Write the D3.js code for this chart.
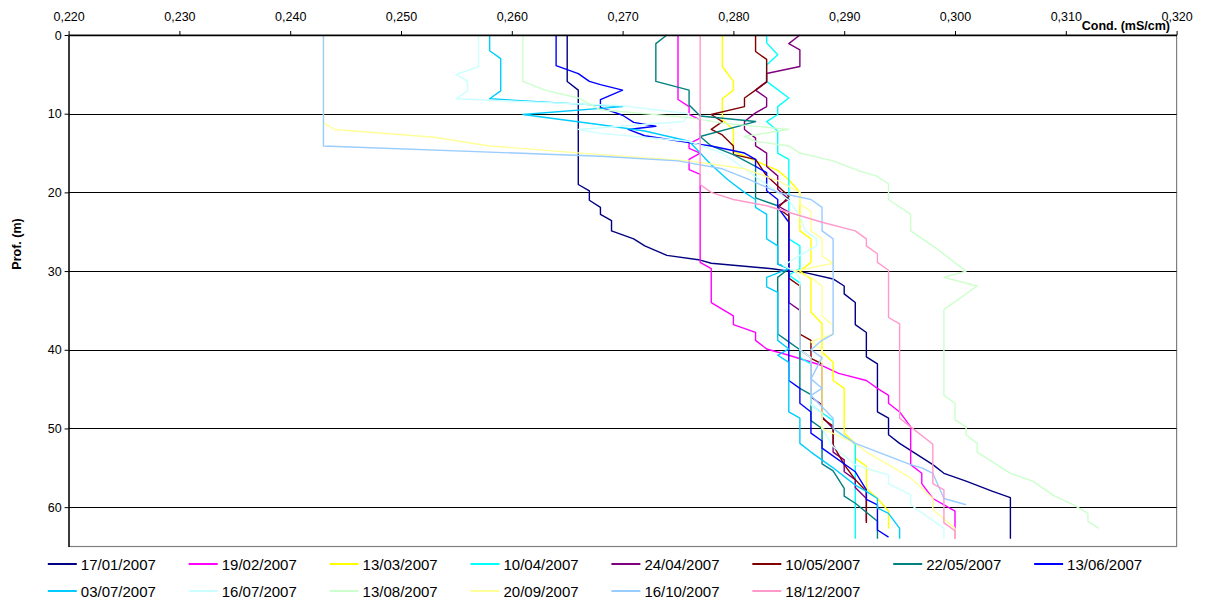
<!DOCTYPE html>
<html><head><meta charset="utf-8">
<script src="https://cdn.jsdelivr.net/npm/d3@7"></script>
<style>body{margin:0;background:#fff}svg{font-family:"Liberation Sans",Arial,sans-serif}</style>
</head><body>
<svg id="chart" width="1205" height="603"></svg>
<script>
const seriesNames = ["17/01/2007","19/02/2007","13/03/2007","10/04/2007","24/04/2007","10/05/2007","22/05/2007","13/06/2007","03/07/2007","16/07/2007","13/08/2007","20/09/2007","16/10/2007","18/12/2007"];
const seriesColors = ["#000080","#FF00FF","#FFFF00","#00FFFF","#800080","#800000","#008080","#0000FF","#00CCFF","#CCFFFF","#CCFFCC","#FFFF99","#99CCFF","#FF99CC"];
const xTicks = [0.22,0.23,0.24,0.25,0.26,0.27,0.28,0.29,0.30,0.31,0.32];
const yTicks = [0,10,20,30,40,50,60];

// each point: [depth (m), conductivity (mS/cm)]
const s17jan = [[0,.265],[5.9,.265],[7,.266],[19,.266],[19.8,.267],[21,.267],[21.9,.268],[22.8,.268],[23.6,.269],[24.9,.269],[25.9,.271],[26.8,.272],[28,.274],[28.6,.277],[29,.278],[29.7,.2835],[30,.285],[30.2,.2865],[31,.289],[31.9,.290],[32.9,.290],[34,.291],[36.8,.291],[37.8,.292],[40.9,.292],[41.8,.293],[47.9,.293],[48.7,.294],[50.8,.294],[51.9,.295],[54.6,.298],[55.7,.299],[56.7,.301],[58,.3034],[58.8,.305],[64,.305]];
const s19feb = [[0,.275],[8.2,.275],[9.1,.276],[10.1,.276],[10.8,.277],[13.1,.277],[13.8,.276],[14.4,.276],[15,.277],[15.8,.276],[17.1,.276],[17.7,.277],[28.9,.277],[29.7,.278],[34,.278],[35.7,.280],[36.8,.280],[37.8,.282],[38.8,.282],[39.9,.283],[40.7,.285],[42,.288],[43,.2895],[43.9,.292],[44.9,.293],[45.8,.294],[46.8,.294],[47.9,.295],[49.8,.296],[54.6,.296],[55.7,.297],[57,.297],[58.9,.298],[60.5,.300],[64,.300]];
const s13mar = [[0,.279],[4,.279],[5.9,.280],[7,.280],[8.1,.279],[10.8,.279],[12,.280],[14.8,.280],[16,.282],[17.2,.284],[18.4,.285],[20,.286],[24.9,.286],[25.9,.287],[28.9,.287],[30,.286],[31,.287],[35.2,.287],[36.7,.288],[40.3,.288],[41.6,.289],[43.9,.289],[44.9,.290],[50.6,.290],[51.9,.291],[53.8,.291],[54.8,.292],[57.6,.292],[58.9,.293],[60.5,.294],[62.7,.294]];
const s10apr = [[0,.283],[1,.283],[2.5,.284],[3.8,.283],[5.9,.283],[8,.285],[9.1,.284],[10.1,.284],[11,.283],[12.2,.284],[15,.284],[15.8,.285],[25.9,.285],[26.8,.286],[29.7,.286],[30.5,.285],[31.5,.286],[41,.286],[41.8,.287],[47,.287],[48,.288],[49,.289],[50,.289],[51,.290],[52,.291],[64,.291]];
const s24apr = [[0,.286],[1.1,.285],[1.9,.286],[4,.286],[4.9,.283],[6,.283],[7,.282],[8,.283],[9.1,.283],[9.9,.282],[11,.281],[12,.281],[13.1,.282],[14.1,.282],[15,.283],[16.7,.283],[17.9,.284],[19.6,.284],[20.9,.285],[21.7,.284],[22.5,.285],[34,.285],[35,.286],[40,.286],[41,.287],[46,.287],[47,.288],[48.5,.288],[50,.289],[53,.289],[54,.290],[55.5,.290],[56.5,.291],[57.5,.291],[58.9,.292],[61.8,.292]];
const s10may = [[0,.282],[2.1,.282],[3.1,.283],[5.9,.283],[7,.282],[8,.281],[9.1,.281],[10.1,.278],[11,.279],[12,.278],[12.7,.279],[14.1,.280],[15.2,.280],[15.8,.282],[17.9,.283],[19.2,.284],[20.5,.285],[21.3,.2845],[22,.284],[23,.285],[30.9,.285],[31.9,.286],[38,.286],[38.8,.287],[41.1,.287],[41.8,.288],[48.7,.288],[49.7,.289],[52.1,.289],[54.6,.290],[56.5,.291],[58,.292],[62,.292]];
const s22may = [[0,.274],[1.1,.273],[5.9,.273],[7,.276],[8.9,.276],[10.3,.277],[11,.282],[12.9,.277],[14.1,.278],[15.2,.280],[16.7,.282],[20.7,.282],[21.7,.284],[29.1,.284],[29.7,.285],[30.8,.284],[38,.284],[39,.285],[40,.286],[44.9,.286],[45.7,.287],[49,.287],[50,.288],[54.5,.288],[55.4,.289],[57.6,.290],[58.6,.290],[59.5,.291],[61.8,.293],[64,.293]];
const s13jun = [[0,.264],[3.9,.264],[4.4,.265],[4.9,.266],[5.9,.267],[6.3,.268],[7,.270],[8.2,.268],[9.2,.268],[10.2,.270],[11.1,.271],[11.6,.273],[12,.2705],[12.8,.272],[13.9,.277],[14.1,.278],[15,.281],[15.8,.282],[16.7,.282],[17.5,.283],[19.8,.283],[20.9,.284],[21.9,.284],[23.8,.285],[43.9,.285],[44.9,.286],[46.8,.286],[47.9,.287],[50.6,.287],[51.6,.288],[52.5,.288],[55.5,.291],[57.8,.292],[59,.292],[59.7,.293],[62.9,.293],[63.8,.294]];
const s03jul = [[0,.258],[2,.258],[3,.259],[7.1,.259],[8.1,.258],[9.1,.270],[10.1,.261],[11.4,.268],[12.2,.272],[13.5,.276],[15,.277],[16.5,.278],[18.4,.2795],[20,.281],[20.9,.282],[21.9,.282],[22.8,.283],[25.9,.283],[26.8,.284],[29.1,.284],[29.7,.285],[30.8,.283],[32,.283],[32.7,.284],[38.8,.284],[39.9,.285],[40.7,.284],[41.6,.285],[47.9,.285],[48.7,.286],[51.9,.286],[53,.287],[55,.289],[57.2,.291],[58,.292],[58.9,.293],[60.1,.293],[60.8,.294],[62.7,.295],[64,.295]];
const s16jul = [[0,.257],[4,.257],[5,.255],[5.9,.256],[7.1,.256],[8.1,.255],[9,.270],[10,.276],[11,.2755],[12,.266],[12.5,.268],[13.5,.276],[15,.279],[17,.281],[19,.283],[21,.285],[23,.286],[24.9,.2865],[25.9,.2875],[26.8,.2875],[28,.286],[29.3,.2845],[30,.2855],[31,.286],[40,.286],[41,.287],[47,.287],[48,.288],[50,.288],[52.3,.289],[54.6,.291],[55.5,.293],[55.9,.294],[57,.294],[58.4,.296],[59.7,.296],[62.7,.299],[64,.299]];
const s13aug = [[0,.261],[5.9,.261],[7,.263],[8,.266],[9.5,.268],[10.5,.276],[11.2,.279],[12,.285],[12.9,.281],[13.5,.282],[14.1,.285],[15,.286],[16,.289],[17.3,.2914],[17.9,.2929],[18.9,.294],[20.9,.294],[22.8,.296],[24.9,.296],[26.8,.298],[30,.301],[30.8,.299],[31.9,.302],[34.9,.299],[45.8,.299],[46.8,.300],[48.9,.300],[49.8,.301],[50.8,.301],[51.9,.302],[53,.302],[55.7,.305],[56.7,.307],[58.6,.309],[59.7,.3107],[60.8,.312],[61.8,.312],[62.7,.313]];
const s20sep = [[0,.243],[11.2,.243],[12,.244],[13,.253],[14.1,.258],[15.2,.268],[16,.276],[17,.281],[18.5,.284],[20,.286],[21.5,.286],[22.4,.287],[24.9,.287],[25.9,.288],[28.1,.288],[29,.289],[30,.2855],[30.8,.287],[31.9,.288],[35.7,.288],[36.9,.289],[38,.289],[39,.287],[40,.288],[50,.288],[51.9,.291],[53,.292],[54.6,.294],[56.3,.296],[58.9,.298],[60.3,.298],[62.7,.300],[64,.300]];
const s16oct = [[0,.243],[14.1,.243],[15.4,.268],[16,.275],[17,.279],[18.4,.2815],[20,.284],[20.9,.287],[21.9,.288],[24.9,.288],[25.9,.289],[38,.289],[38.8,.288],[40,.287],[41,.288],[43.7,.287],[44.9,.288],[45.8,.287],[48.7,.289],[50,.289],[51.9,.291],[54.6,.296],[55,.297],[55.7,.298],[58.9,.299],[59.7,.301]];
const s18dec = [[0,.277],[19,.277],[20,.278],[20.9,.280],[21.7,.283],[23.8,.288],[24.9,.291],[25.9,.292],[26.8,.292],[27.8,.293],[28.9,.293],[29.9,.294],[35.9,.294],[36.7,.295],[48.7,.295],[49.8,.296],[52,.298],[57,.298],[57.8,.299],[62,.299],[63,.300],[64,.300]];

const seriesData = [s17jan,s19feb,s13mar,s10apr,s24apr,s10may,s22may,s13jun,s03jul,s16jul,s13aug,s20sep,s16oct,s18dec];

const svg = d3.select("#chart");
const x = d3.scaleLinear().domain([0.22,0.32]).range([68.6,1176.6]);
const y = d3.scaleLinear().domain([0,65]).range([35,546.5]);

svg.append("rect").attr("x",x(0.22)).attr("y",y(0)).attr("width",x(0.32)-x(0.22)).attr("height",y(65)-y(0))
  .attr("fill","none").attr("stroke","#808080").attr("stroke-width",1.2);

svg.append("g").selectAll("line").data(yTicks.filter(d=>d>0)).join("line")
  .attr("x1",x(0.22)).attr("x2",x(0.32)).attr("y1",d=>Math.round(y(d))+0.5).attr("y2",d=>Math.round(y(d))+0.5)
  .attr("stroke","#000").attr("stroke-width",1);

const line = d3.line().x(d=>x(d[1])).y(d=>y(d[0]));
svg.append("g").selectAll("path").data(seriesData).join("path")
  .attr("d",line).attr("fill","none")
  .attr("stroke",(d,i)=>seriesColors[i]).attr("stroke-width",1.4).attr("stroke-linejoin","round");

const fmt = d => d3.format(".3f")(d).replace(".",",");
const topAxis = svg.append("g").attr("transform",`translate(0,${y(0)})`)
  .call(d3.axisTop(x).tickValues(xTicks).tickFormat(fmt).tickSize(4).tickSizeOuter(0));
topAxis.selectAll("text").attr("font-size",12.5).attr("font-family","Liberation Sans, Arial, sans-serif").attr("fill","#000").attr("dy","-0.6em");
topAxis.select(".domain").attr("stroke","#000").attr("stroke-width",1.3);

const leftAxis = svg.append("g").attr("transform",`translate(${x(0.22)},0)`)
  .call(d3.axisLeft(y).tickValues(yTicks).tickSize(4).tickSizeOuter(0));
leftAxis.selectAll("text").attr("font-size",12.5).attr("font-family","Liberation Sans, Arial, sans-serif").attr("fill","#000");
leftAxis.select(".domain").attr("stroke","#000").attr("stroke-width",1.3);

svg.append("text").attr("x",1170).attr("y",30).attr("text-anchor","end")
  .attr("font-size",12.5).attr("font-weight","bold").text("Cond. (mS/cm)");
svg.append("text").attr("transform","translate(21,244) rotate(-90)").attr("text-anchor","middle")
  .attr("font-size",12.5).attr("font-weight","bold").text("Prof. (m)");

const lg = svg.append("g").selectAll("g").data(seriesNames).join("g")
  .attr("transform",(d,i)=>`translate(${47.8 + (i%8)*140.9},${i<8?564:591})`);
lg.append("line").attr("x1",0).attr("x2",29).attr("y1",0).attr("y2",0)
  .attr("stroke",(d,i)=>seriesColors[i]).attr("stroke-width",2);
lg.append("text").attr("x",33).attr("y",5.5).attr("font-size",15).text(d=>d);
</script>
</body></html>
